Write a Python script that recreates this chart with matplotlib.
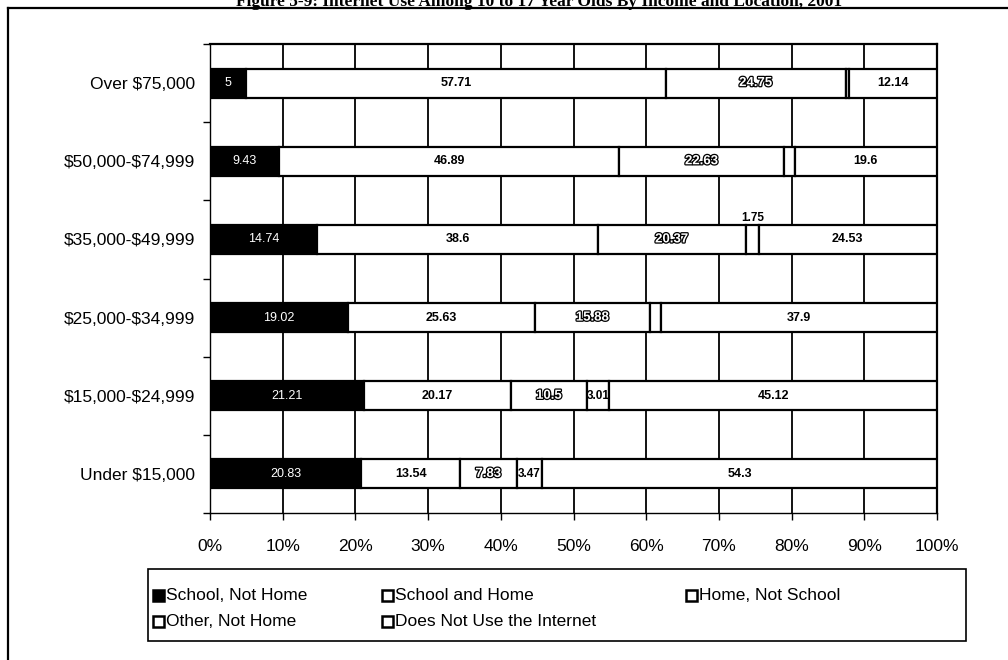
import matplotlib
matplotlib.use("Agg")
import matplotlib.pyplot as plt
import matplotlib.patheffects as pe
from matplotlib.patches import Rectangle
from matplotlib.lines import Line2D
import numpy as np

plt.rcParams['font.family'] = ['Liberation Sans', 'DejaVu Sans']
plt.rcParams['text.parse_math'] = False

categories = ["Over $75,000", "$50,000-$74,999", "$35,000-$49,999",
              "$25,000-$34,999", "$15,000-$24,999", "Under $15,000"]
series_names = ["School, Not Home", "School and Home", "Home, Not School",
                "Other, Not Home", "Does Not Use the Internet"]
school_not_home = [5, 9.43, 14.74, 19.02, 21.21, 20.83]
school_and_home = [57.71, 46.89, 38.6, 25.63, 20.17, 13.54]
home_not_school = [24.75, 22.63, 20.37, 15.88, 10.5, 7.83]
other_not_home = [0.4, 1.45, 1.75, 1.57, 3.01, 3.47]
does_not_use = [12.14, 19.6, 24.53, 37.9, 45.12, 54.3]
other_labels = ["", "", "1.75", "", "3.01", "3.47"]
x_ticks = [0, 10, 20, 30, 40, 50, 60, 70, 80, 90, 100]
title = "Figure 5-9: Internet Use Among 10 to 17 Year Olds By Income and Location, 2001"

series = [school_not_home, school_and_home, home_not_school, other_not_home, does_not_use]
faces = ["black", "white", "white", "white", "white"]

fig = plt.figure(figsize=(10.08, 6.6), dpi=100)
W, H = 1008, 660

def fx(px):
    return px / W

def fy(py):
    return 1 - py / H

# outer frame (left and top lines only, as in cropped reference)
fig.add_artist(Line2D([fx(7.5), fx(7.5)], [fy(7.5), 0], color="black", lw=1.6))
fig.add_artist(Line2D([fx(7.5), 1], [fy(7.5), fy(7.5)], color="black", lw=1.6))

# title, partially clipped by the top edge as in the reference
fig.text(0.535, fy(2), title, ha="center", va="center", fontsize=12.5,
         fontweight="bold", family=["Liberation Serif", "DejaVu Serif"])

ax = fig.add_axes([fx(210), fy(513), fx(937) - fx(210), (513 - 44) / H])

data = np.array(series, dtype=float)
totals = data.sum(axis=0)
pct = data / totals * 100
n = len(categories)
ypos = np.arange(n)
bar_h = 0.37

left = np.zeros(n)
for i, vals in enumerate(pct):
    ax.barh(ypos, vals, left=left, height=bar_h, color=faces[i],
            edgecolor="black", linewidth=1.6, zorder=3)
    for j in range(n):
        cx = left[j] + vals[j] / 2
        raw = series[i][j]
        if i == 0:
            ax.text(cx, ypos[j], f"{raw:g}", ha="center", va="center",
                    fontsize=9, color="white", zorder=5)
        elif i == 2:
            ax.text(cx, ypos[j], f"{raw:g}", ha="center", va="center",
                    fontsize=9.5, color="white", fontweight="bold", zorder=5,
                    path_effects=[pe.withStroke(linewidth=1.8, foreground="black")])
        elif i == 3:
            lab = other_labels[j]
            if lab:
                if j == 2:
                    ax.text(cx, ypos[j] - 0.2, lab, ha="center", va="bottom",
                            fontsize=8.5, color="black", fontweight="bold", zorder=5)
                else:
                    ax.text(cx, ypos[j], lab, ha="center", va="center",
                            fontsize=8.5, color="black", fontweight="bold", zorder=5)
        else:
            ax.text(cx, ypos[j], f"{raw:g}", ha="center", va="center",
                    fontsize=9, color="black", fontweight="bold", zorder=5)
    left += vals

ax.set_xlim(0, 100)
ax.set_ylim(n - 0.5, -0.5)
ax.set_xticks(x_ticks)
ax.set_xticklabels([f"{t}%" for t in x_ticks], fontsize=12.5)
ax.set_yticks(ypos)
ax.set_yticklabels(categories, fontsize=12.5)
ax.set_yticks(np.arange(-0.5, n, 1.0), minor=True)
ax.tick_params(axis="y", which="major", length=0, pad=11)
ax.tick_params(axis="y", which="minor", length=5, width=1, direction="out")
ax.tick_params(axis="x", which="major", length=5, width=1, direction="out", pad=14)
ax.xaxis.grid(True, color="black", linewidth=1.3, zorder=0)
ax.set_axisbelow(True)
for s in ax.spines.values():
    s.set_linewidth(1.6)
    s.set_color("black")
ax.spines["left"].set_linewidth(1.0)
ax.spines["bottom"].set_linewidth(1.0)

# legend box drawn in figure pixel coordinates (Excel-style layout)
box_l, box_r, box_t, box_b = 148, 966, 569, 641
fig.add_artist(Rectangle((fx(box_l), fy(box_b)), fx(box_r) - fx(box_l),
                         (box_b - box_t) / H, facecolor="white", edgecolor="black",
                         linewidth=1.2, transform=fig.transFigure))
entry_pos = [(153, 596), (382, 596), (686, 596), (153, 622), (382, 622)]
msz = 11
for k, name in enumerate(series_names):
    mx, my = entry_pos[k]
    fig.add_artist(Rectangle((fx(mx), fy(my + msz / 2 - 1)), msz / W, msz / H,
                             facecolor=faces[k], edgecolor="black", linewidth=1.8,
                             transform=fig.transFigure))
    fig.text(fx(mx + msz + 2), fy(my), name, ha="left", va="center", fontsize=12.5)

fig.savefig("out.png", dpi=100)
